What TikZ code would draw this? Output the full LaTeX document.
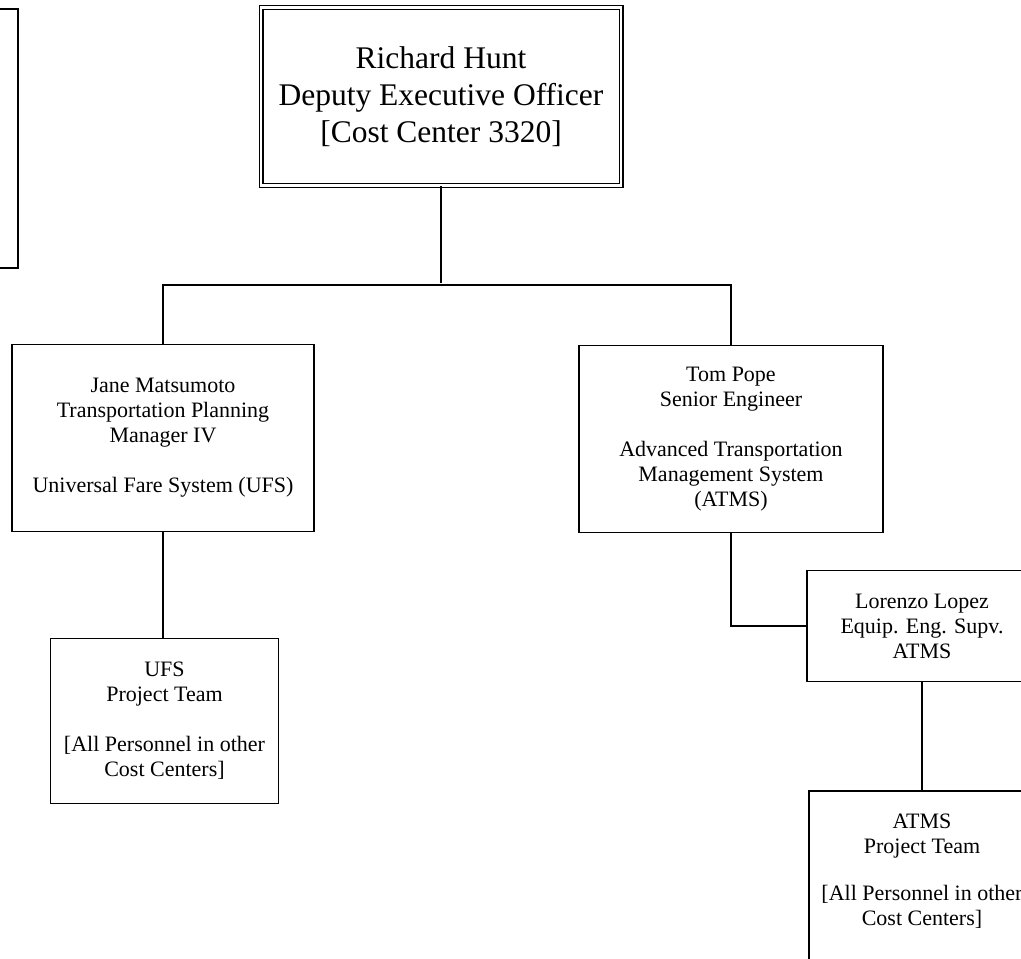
\documentclass[tikz,border=0pt]{standalone}
\usepackage{fontspec}
\setmainfont{Liberation Serif}
\usetikzlibrary{positioning}

\begin{document}
\begin{tikzpicture}[x=1pt,y=-1pt,line width=1.8pt,
    box/.style={draw,inner sep=0pt,align=center,font=\fontsize{22}{25}\selectfont},
    topbox/.style={box,double,line width=1.3pt,double distance=2.4pt,font=\fontsize{31.5}{37}\selectfont}]
        \useasboundingbox (0,0) rectangle (1021,959);
        \node[box,minimum width=200pt,minimum height=259pt] (prev) at (-82,138.5) {};
        \node[topbox,minimum width=360pt,minimum height=178pt] (hunt) at (441,96.5) {Richard Hunt\\Deputy Executive Officer\\{[}Cost Center 3320{]}};
        \node[box,minimum width=302pt,minimum height=187pt] (jane) at (163,438) {Jane Matsumoto\\Transportation Planning\\Manager IV\\[25pt]Universal Fare System (UFS)};
        \node[box,minimum width=304pt,minimum height=187pt] (pope) at (731,439) {Tom Pope\\Senior Engineer\\[25pt]Advanced Transportation\\Management System\\(ATMS)};
        \node[box,minimum width=228pt,minimum height=165pt] (ufs) at (164.5,721) {UFS\\Project Team\\[25pt]{[}All Personnel in other\\Cost Centers{]}};
        \node[box,minimum width=230pt,minimum height=111pt] (lopez) at (922,626) {Lorenzo Lopez\\Equip. Eng. Supv.\\ATMS};
        \node[box,anchor=north,minimum width=226pt,text height=135pt,text depth=50pt] (atms) at (922,790) {ATMS\\Project Team\\[22pt]{[}All Personnel in other\\Cost Centers{]}};
        \draw (hunt.south) -- ++(0,97);
        \draw (jane.north) -- ++(0,-59) -| (pope.north);
        \draw (jane.south) -- (jane.south |- ufs.north);
        \draw (pope.south) |- (lopez.west);
        \draw (lopez.south) -- (atms.north);
    \end{tikzpicture}
\end{document}
